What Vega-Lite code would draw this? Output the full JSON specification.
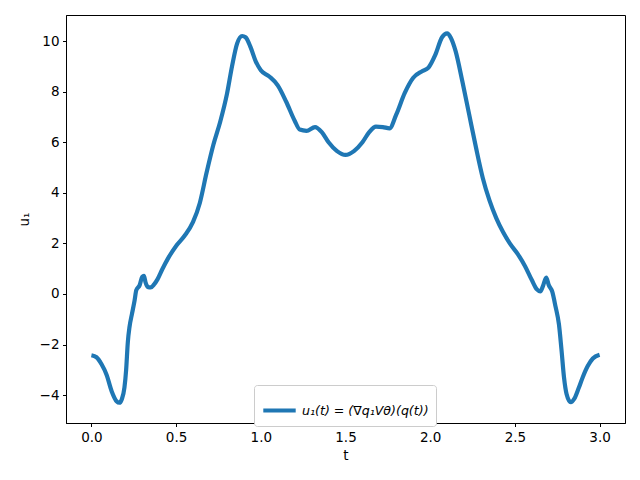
{
  "$schema": "https://vega.github.io/schema/vega-lite/v6.json",
  "autosize": "none",
  "width": 559,
  "height": 408,
  "padding": {"left": 66, "top": 15, "right": 15, "bottom": 57},
  "background": "white",
  "config": {
    "font": "DejaVu Sans",
    "view": {"stroke": "black", "strokeWidth": 1},
    "axis": {
      "grid": false,
      "domainColor": "black",
      "tickColor": "black",
      "labelColor": "black",
      "titleColor": "black",
      "tickSize": 3.5,
      "labelPadding": 3.5,
      "labelFontSize": 13.5,
      "titleFontSize": 13.5,
      "titleFontWeight": "normal",
      "labelFont": "DejaVu Sans",
      "titleFont": "DejaVu Sans"
    },
    "legend": {
      "labelFont": "DejaVu Sans"
    }
  },
  "data": {
    "values": [
      {"t": 0.0, "u": -2.42}, {"t": 0.03, "u": -2.5}, {"t": 0.06, "u": -2.78}, {"t": 0.09, "u": -3.2},
      {"t": 0.12, "u": -3.85}, {"t": 0.15, "u": -4.25}, {"t": 0.165, "u": -4.3}, {"t": 0.18, "u": -4.15},
      {"t": 0.195, "u": -3.7}, {"t": 0.205, "u": -3.0}, {"t": 0.215, "u": -1.9}, {"t": 0.225, "u": -1.3},
      {"t": 0.24, "u": -0.77}, {"t": 0.255, "u": -0.25}, {"t": 0.265, "u": 0.15}, {"t": 0.285, "u": 0.35},
      {"t": 0.3, "u": 0.68}, {"t": 0.31, "u": 0.72}, {"t": 0.32, "u": 0.45}, {"t": 0.335, "u": 0.27},
      {"t": 0.35, "u": 0.26}, {"t": 0.37, "u": 0.38}, {"t": 0.39, "u": 0.58}, {"t": 0.42, "u": 1.0},
      {"t": 0.45, "u": 1.38}, {"t": 0.5, "u": 1.9}, {"t": 0.55, "u": 2.3}, {"t": 0.6, "u": 2.85},
      {"t": 0.64, "u": 3.6}, {"t": 0.68, "u": 4.8}, {"t": 0.72, "u": 5.9}, {"t": 0.76, "u": 6.8},
      {"t": 0.8, "u": 7.9}, {"t": 0.83, "u": 9.0}, {"t": 0.86, "u": 9.9}, {"t": 0.89, "u": 10.2},
      {"t": 0.91, "u": 10.15}, {"t": 0.94, "u": 9.75}, {"t": 0.97, "u": 9.2}, {"t": 1.0, "u": 8.85},
      {"t": 1.05, "u": 8.6}, {"t": 1.1, "u": 8.25}, {"t": 1.15, "u": 7.6}, {"t": 1.2, "u": 6.85},
      {"t": 1.23, "u": 6.5}, {"t": 1.27, "u": 6.45}, {"t": 1.32, "u": 6.6}, {"t": 1.36, "u": 6.4},
      {"t": 1.4, "u": 6.0}, {"t": 1.45, "u": 5.65}, {"t": 1.5, "u": 5.5}, {"t": 1.55, "u": 5.65},
      {"t": 1.6, "u": 6.0}, {"t": 1.64, "u": 6.4}, {"t": 1.68, "u": 6.62}, {"t": 1.72, "u": 6.6},
      {"t": 1.76, "u": 6.55}, {"t": 1.8, "u": 7.1}, {"t": 1.85, "u": 7.95}, {"t": 1.9, "u": 8.55},
      {"t": 1.95, "u": 8.8}, {"t": 1.99, "u": 8.95}, {"t": 2.03, "u": 9.45}, {"t": 2.07, "u": 10.15},
      {"t": 2.1, "u": 10.3}, {"t": 2.12, "u": 10.15}, {"t": 2.15, "u": 9.6}, {"t": 2.19, "u": 8.4},
      {"t": 2.23, "u": 7.1}, {"t": 2.27, "u": 5.8}, {"t": 2.31, "u": 4.6}, {"t": 2.35, "u": 3.7},
      {"t": 2.39, "u": 3.0}, {"t": 2.43, "u": 2.45}, {"t": 2.47, "u": 2.0}, {"t": 2.52, "u": 1.55},
      {"t": 2.56, "u": 1.1}, {"t": 2.6, "u": 0.55}, {"t": 2.63, "u": 0.18}, {"t": 2.65, "u": 0.1},
      {"t": 2.665, "u": 0.3}, {"t": 2.685, "u": 0.65}, {"t": 2.7, "u": 0.35}, {"t": 2.72, "u": 0.1},
      {"t": 2.74, "u": -0.5}, {"t": 2.76, "u": -1.2}, {"t": 2.775, "u": -2.2}, {"t": 2.79, "u": -3.3},
      {"t": 2.805, "u": -3.95}, {"t": 2.83, "u": -4.28}, {"t": 2.85, "u": -4.15}, {"t": 2.875, "u": -3.75},
      {"t": 2.9, "u": -3.3}, {"t": 2.93, "u": -2.85}, {"t": 2.96, "u": -2.55}, {"t": 3.0, "u": -2.4}
    ]
  },
  "mark": {"type": "line", "strokeWidth": 4.2, "interpolate": "monotone", "strokeCap": "butt"},
  "encoding": {
    "x": {
      "field": "t", "type": "quantitative", "title": "t",
      "scale": {"domain": [-0.15, 3.15], "nice": false, "zero": false},
      "axis": {"values": [0, 0.5, 1, 1.5, 2, 2.5, 3], "format": ".1f", "titlePadding": 5}
    },
    "y": {
      "field": "u", "type": "quantitative", "title": "u₁",
      "scale": {"domain": [-5.1, 11.03], "nice": false, "zero": false},
      "axis": {"values": [-4, -2, 0, 2, 4, 6, 8, 10], "titlePadding": 8}
    },
    "color": {
      "datum": "u₁(t) = (∇q₁Vθ)(q(t))",
      "scale": {"range": ["#1f77b4"]},
      "legend": {
        "title": null,
        "orient": "none",
        "legendX": 188,
        "legendY": 370,
        "symbolType": "stroke",
        "symbolStrokeWidth": 4.2,
        "symbolSize": 1050,
        "labelFontSize": 12.6,
        "labelFontStyle": "italic",
        "padding": 7,
        "strokeColor": "#cccccc",
        "fillColor": "white",
        "cornerRadius": 3
      }
    }
  }
}
